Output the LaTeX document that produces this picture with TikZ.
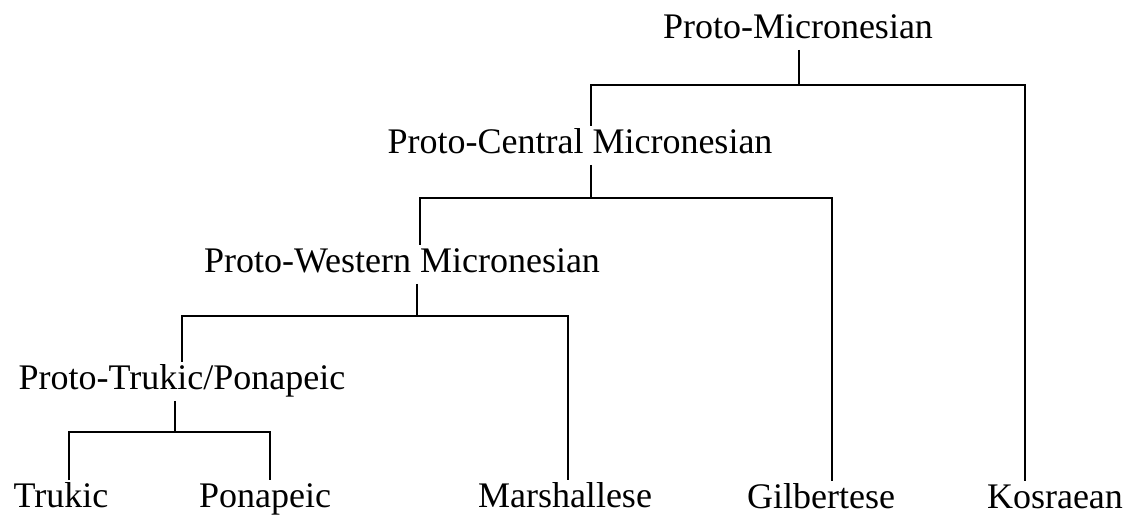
\documentclass[tikz,border=0pt]{standalone}
\usepackage{fontspec}
\setmainfont{Liberation Serif}

\tikzset{
    lang/.style={anchor=base, inner sep=0pt, outer sep=1.5pt,
        text height=12.5pt, text depth=4pt, font=\fontsize{18}{22}\selectfont}
}

\begin{document}
\begin{tikzpicture}[x=0.5pt, y=-0.5pt, line width=1.4pt]
    \useasboundingbox (0,0) rectangle (1132,519);

    \node[lang] (pm) at (798,39) {Proto-Micronesian};
    \node[lang] (pcm) at (580,154) {Proto-Central Micronesian};
    \node[lang] (pwm) at (402,273) {Proto-Western Micronesian};
    \node[lang] (ptp) at (182,390) {Proto-Trukic/Ponapeic};

    \node[lang] (truk) at (61,508) {Trukic};
    \node[lang] (pona) at (265,508) {Ponapeic};
    \node[lang] (mars) at (565,508) {Marshallese};
    \node[lang] (gilb) at (821,509) {Gilbertese};
    \node[lang] (kosr) at (1055,509) {Kosraean};

    \coordinate (b1) at (799,85);
    \coordinate (b1l) at (591,85);
    \coordinate (b1r) at (1025,85);
    \coordinate (b2) at (591,198);
    \coordinate (b2l) at (420,198);
    \coordinate (b2r) at (832,198);
    \coordinate (b3) at (417,316);
    \coordinate (b3l) at (182,316);
    \coordinate (b3r) at (568,316);
    \coordinate (b4) at (175,432);
    \coordinate (b4l) at (69,432);
    \coordinate (b4r) at (270,432);

    \draw (pm.south -| b1) -- (b1);
    \draw (pcm.north -| b1l) |- (b1r) -- (b1r |- kosr.north);

    \draw (pcm.south -| b2) -- (b2);
    \draw (pwm.north -| b2l) |- (b2r) -- (b2r |- gilb.north);

    \draw (pwm.south -| b3) -- (b3);
    \draw (ptp.north -| b3l) |- (b3r) -- (b3r |- mars.north);

    \draw (ptp.south -| b4) -- (b4);
    \draw (truk.north -| b4l) |- (b4r) -- (b4r |- pona.north);
\end{tikzpicture}
\end{document}
